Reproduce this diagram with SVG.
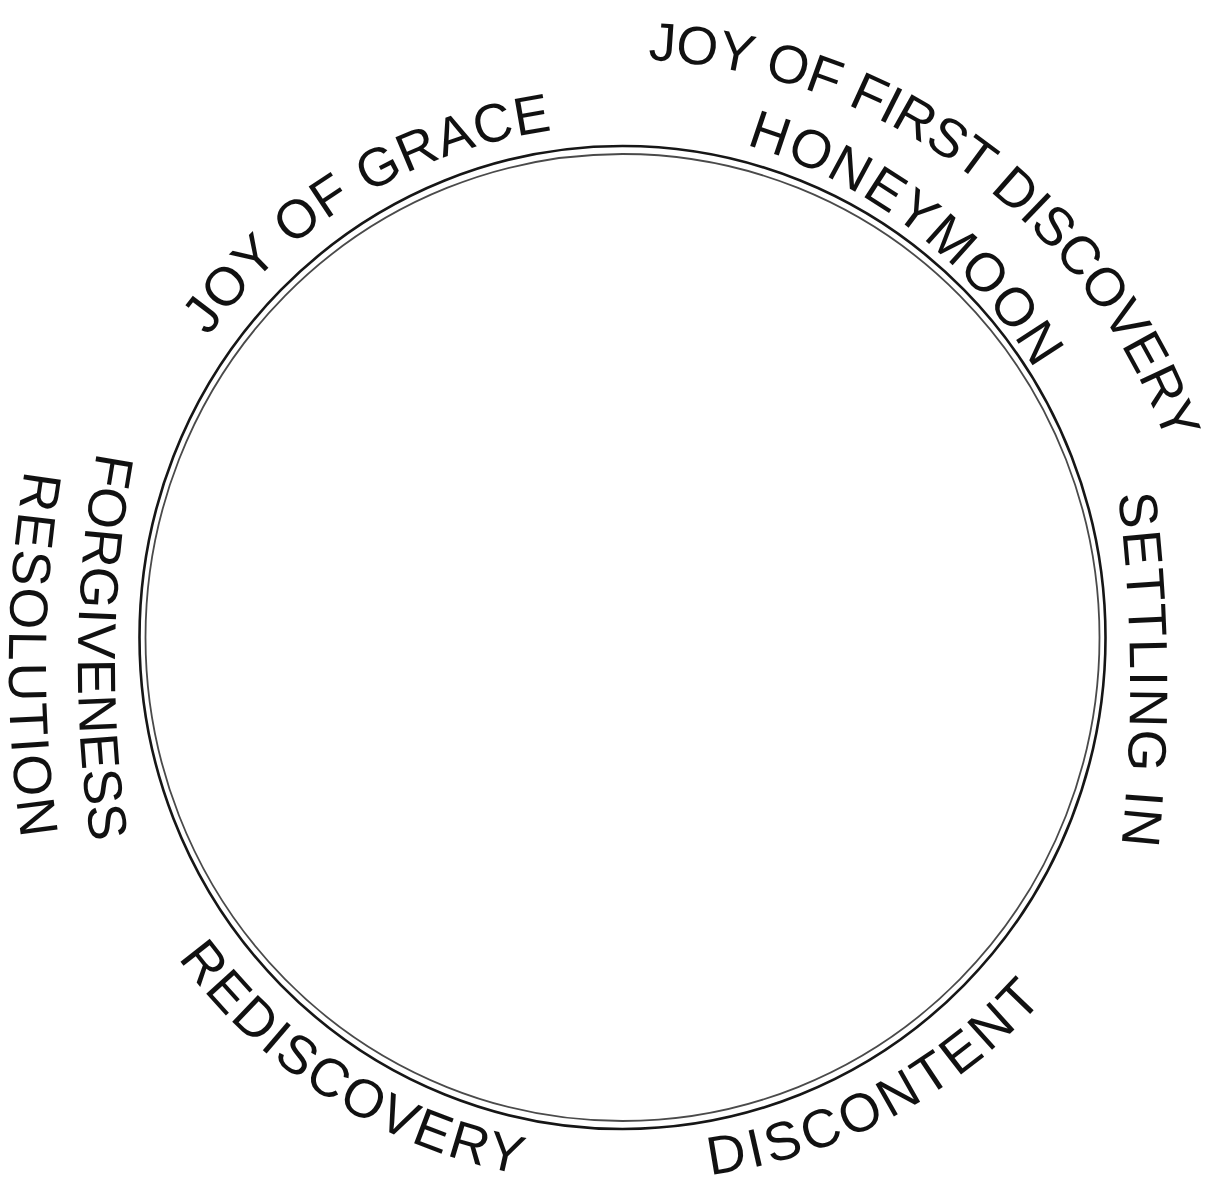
<svg xmlns="http://www.w3.org/2000/svg" xmlns:xlink="http://www.w3.org/1999/xlink" width="1206" height="1181" viewBox="0 0 1206 1181">
  <style>
    .lbl { font-family: "Liberation Sans", Arial, sans-serif; font-size: 54px; fill: #111; }
    .ring-outer { fill: none; stroke: #161616; stroke-width: 2.6; }
    .ring-inner { fill: none; stroke: #4a4a4a; stroke-width: 1.8; }
    .guide { fill: none; stroke: none; }
  </style>
  <defs>
    <path id="p-grace" class="guide" d="M 208.3 336.6 A 512 512 0 0 1 555.7 129.9"/>
    <path id="p-first" class="guide" d="M 648 60 A 578 578 0 0 1 1167 444"/>
    <path id="p-honey" class="guide" d="M 746 145 A 500 500 0 0 1 1035 370"/>
    <path id="p-settle" class="guide" d="M 1118 494 A 1500 1500 0 0 1 1121 848"/>
    <path id="p-forgive" class="guide" d="M 97 452 A 1200 1200 0 0 0 92 848"/>
    <path id="p-resol" class="guide" d="M 25 470 A 1200 1200 0 0 0 22 843"/>
    <path id="p-redisc" class="guide" d="M 178 958 A 548 548 0 0 0 524 1175"/>
    <path id="p-discon" class="guide" d="M 710 1175 A 545 545 0 0 0 1045 998"/>
  </defs>

  <g id="connectors">
    <ellipse class="ring-outer" cx="622.5" cy="637.5" rx="483" ry="491.5"/>
    <ellipse class="ring-inner" cx="622.5" cy="637.5" rx="477" ry="483.5"/>
  </g>

  <g id="node-joy-of-grace">
    <text class="lbl"><textPath href="#p-grace" textLength="412" lengthAdjust="spacing">JOY OF GRACE</textPath></text>
  </g>
  <g id="node-joy-of-first-discovery">
    <text class="lbl"><textPath href="#p-first" textLength="684" lengthAdjust="spacing">JOY OF FIRST DISCOVERY</textPath></text>
  </g>
  <g id="node-honeymoon">
    <text class="lbl"><textPath href="#p-honey" textLength="374" lengthAdjust="spacing">HONEYMOON</textPath></text>
  </g>
  <g id="node-settling-in">
    <text class="lbl"><textPath href="#p-settle" textLength="352" lengthAdjust="spacing">SETTLING IN</textPath></text>
  </g>
  <g id="node-forgiveness">
    <text class="lbl"><textPath href="#p-forgive" textLength="392" lengthAdjust="spacing">FORGIVENESS</textPath></text>
  </g>
  <g id="node-resolution">
    <text class="lbl"><textPath href="#p-resol" textLength="370" lengthAdjust="spacing">RESOLUTION</textPath></text>
  </g>
  <g id="node-rediscovery">
    <text class="lbl"><textPath href="#p-redisc" textLength="414" lengthAdjust="spacing">REDISCOVERY</textPath></text>
  </g>
  <g id="node-discontent">
    <text class="lbl"><textPath href="#p-discon" textLength="384" lengthAdjust="spacing">DISCONTENT</textPath></text>
  </g>
</svg>
